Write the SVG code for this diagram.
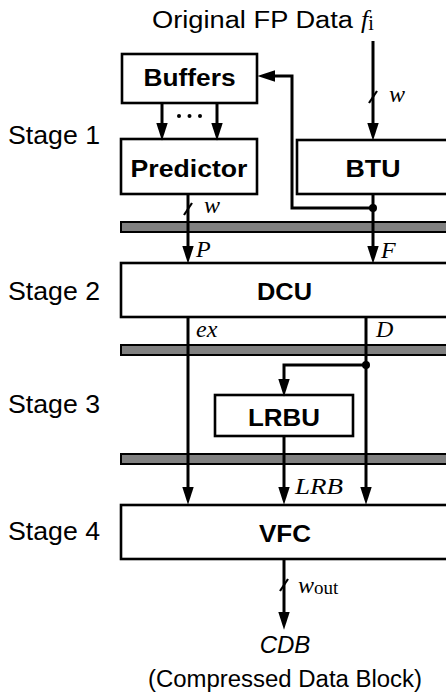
<svg xmlns="http://www.w3.org/2000/svg" width="446" height="697" viewBox="0 0 446 697">
<defs>
<style>
.box{fill:#fff;stroke:#000;stroke-width:2.6}
.bar{fill:#808080;stroke:#000;stroke-width:2}
.ln{fill:none;stroke:#000;stroke-width:3}
.arr{fill:none;stroke:#000;stroke-width:3;marker-end:url(#ah)}
.sl{stroke:#000;stroke-width:2.2}
.sans{font-family:"Liberation Sans",Arial,sans-serif;fill:#000}
.bold{font-family:"Liberation Sans",Arial,sans-serif;font-weight:bold;font-size:23px;text-anchor:middle;fill:#000}
.math{font-family:"Liberation Serif","Times New Roman",serif;font-style:italic;font-size:24px;fill:#000}
</style>
<marker id="ah" markerUnits="userSpaceOnUse" markerWidth="18" markerHeight="12" refX="6" refY="5.5" orient="auto" viewBox="0 0 17 11">
<path d="M0,0 L17,5.5 L0,11 Z" fill="#000"/>
</marker>
</defs>
<rect width="446" height="697" fill="#fff"/>

<g id="stage-labels" class="sans" font-size="25">
<text x="8" y="144" textLength="92" lengthAdjust="spacingAndGlyphs">Stage 1</text>
<text x="8" y="300" textLength="92" lengthAdjust="spacingAndGlyphs">Stage 2</text>
<text x="8" y="413" textLength="92" lengthAdjust="spacingAndGlyphs">Stage 3</text>
<text x="8" y="540" textLength="92" lengthAdjust="spacingAndGlyphs">Stage 4</text>
</g>

<g id="input">
<text class="sans" x="152" y="28" font-size="23" textLength="201" lengthAdjust="spacingAndGlyphs">Original FP Data</text>
<text x="361" y="28" font-family="Liberation Serif,Times New Roman,serif" font-size="26"><tspan font-style="italic">f</tspan><tspan font-size="20" dy="2">i</tspan></text>
</g>

<g id="registers">
<rect class="bar" x="121" y="222" width="330" height="10"/>
<rect class="bar" x="121" y="345" width="330" height="10"/>
<rect class="bar" x="121" y="454" width="330" height="10"/>
</g>

<g id="buffers">
<rect class="box" x="122" y="54" width="135" height="49"/>
<text class="bold" x="189.5" y="86" textLength="92" lengthAdjust="spacingAndGlyphs">Buffers</text>
</g>
<g id="predictor">
<rect class="box" x="121" y="139" width="136" height="55"/>
<text class="bold" x="189" y="177" textLength="117" lengthAdjust="spacingAndGlyphs">Predictor</text>
</g>
<g id="btu">
<rect class="box" x="297" y="140" width="152" height="54"/>
<text class="bold" x="373" y="177" textLength="55" lengthAdjust="spacingAndGlyphs">BTU</text>
</g>
<g id="dcu">
<rect class="box" x="121" y="263" width="328" height="54"/>
<text class="bold" x="284.5" y="300" textLength="55" lengthAdjust="spacingAndGlyphs">DCU</text>
</g>
<g id="lrbu">
<rect class="box" x="215" y="395" width="138" height="41"/>
<text class="bold" x="284" y="426" textLength="72" lengthAdjust="spacingAndGlyphs">LRBU</text>
</g>
<g id="vfc">
<rect class="box" x="121" y="505" width="328" height="54"/>
<text class="bold" x="285" y="542" textLength="52" lengthAdjust="spacingAndGlyphs">VFC</text>
</g>

<g id="connectors">
<path class="arr" d="M373,41 V129"/>
<line class="sl" x1="369" y1="103" x2="377" y2="91"/>
<path class="arr" d="M373,208 H292 V76 H269"/>
<circle cx="373" cy="208" r="4" fill="#000"/>
<path class="arr" d="M373,194 V252"/>
<path class="arr" d="M162,103 V129"/>
<path class="arr" d="M217,103 V129"/>
<g fill="#000"><circle cx="179" cy="116" r="2"/><circle cx="189.5" cy="116" r="2"/><circle cx="200" cy="116" r="2"/></g>
<path class="arr" d="M188,194 V252"/>
<line class="sl" x1="184" y1="215" x2="192" y2="203"/>
<path class="arr" d="M188,317 V493"/>
<path class="arr" d="M366,317 V493"/>
<path class="arr" d="M366,365 H284 V385"/>
<circle cx="366" cy="365" r="4" fill="#000"/>
<path class="arr" d="M284,436 V493"/>
<path class="arr" d="M284,559 V618"/>
<line class="sl" x1="280" y1="591" x2="288" y2="579"/>
</g>

<g id="connector-labels">
<text class="math" x="389" y="102">w</text>
<text class="math" x="204" y="213">w</text>
<text class="math" x="196" y="257">P</text>
<text class="math" x="381" y="258">F</text>
<text class="math" x="196" y="337">ex</text>
<text class="math" x="376" y="337">D</text>
<text class="math" x="295" y="494" textLength="48" lengthAdjust="spacingAndGlyphs">LRB</text>
<text x="298" y="593" font-family="Liberation Serif,Times New Roman,serif" font-size="24"><tspan font-style="italic">w</tspan><tspan font-size="19" dy="1">out</tspan></text>
</g>

<g id="output">
<text class="sans" x="285" y="653" font-size="24" font-style="italic" text-anchor="middle">CDB</text>
<text class="sans" x="285" y="687" font-size="23" text-anchor="middle" textLength="274" lengthAdjust="spacingAndGlyphs">(Compressed Data Block)</text>
</g>
</svg>
